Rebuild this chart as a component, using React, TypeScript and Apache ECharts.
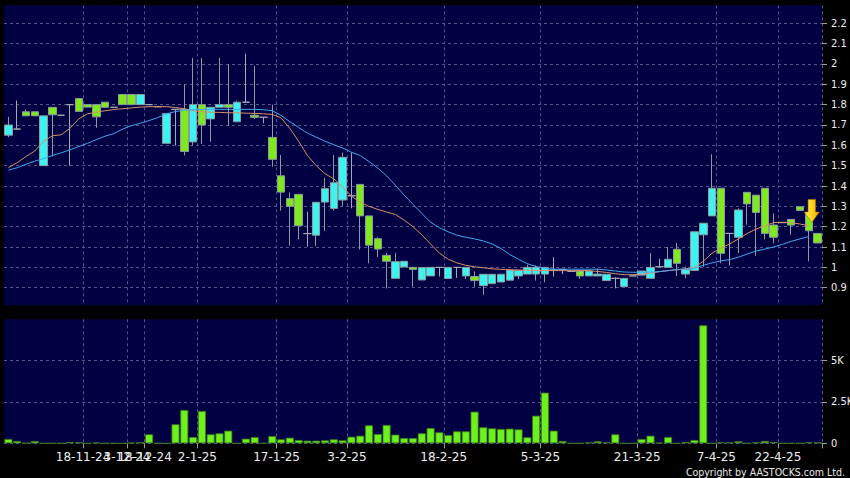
import React, { useEffect, useRef } from "react";
import * as echarts from "echarts";

const dates = [
  "5-11-24","6-11-24","7-11-24","8-11-24","11-11-24","12-11-24","13-11-24","14-11-24","15-11-24",
  "18-11-24","20-11-24","22-11-24","27-11-24","29-11-24",
  "3-12-24","10-12-24",
  "18-12-24","19-12-24","20-12-24","23-12-24","24-12-24","27-12-24",
  "2-1-25","3-1-25","6-1-25","7-1-25","8-1-25","9-1-25","10-1-25","13-1-25","14-1-25",
  "17-1-25","20-1-25","21-1-25","22-1-25","23-1-25","24-1-25","27-1-25","28-1-25",
  "3-2-25","4-2-25","5-2-25","6-2-25","7-2-25","10-2-25","11-2-25","12-2-25","13-2-25","14-2-25","17-2-25",
  "18-2-25","19-2-25","20-2-25","21-2-25","24-2-25","25-2-25","26-2-25","27-2-25","28-2-25","3-3-25","4-3-25",
  "5-3-25","6-3-25","7-3-25","10-3-25","11-3-25","12-3-25","13-3-25","14-3-25","17-3-25","18-3-25","19-3-25",
  "21-3-25","24-3-25","25-3-25","26-3-25","27-3-25","28-3-25","31-3-25","1-4-25","2-4-25",
  "7-4-25","8-4-25","9-4-25","10-4-25","11-4-25","14-4-25","15-4-25",
  "22-4-25","23-4-25","24-4-25","25-4-25","28-4-25",
];

const labelDates = ["18-11-24","3-12-24","18-12-24","2-1-25","17-1-25","3-2-25","18-2-25","5-3-25","21-3-25","7-4-25","22-4-25"];

const opens = [
  1.65,1.68,1.765,1.765,1.5,1.787,1.748,1.8,1.83,1.8,
  1.8,1.812,1.787,1.85,1.85,1.8,1.8,1.79,1.61,1.777,
  1.777,1.617,1.8,1.73,1.787,1.8,1.716,1.812,1.748,1.738,
  1.639,1.45,1.338,1.359,1.166,1.158,1.321,1.29,1.331,1.352,
  1.408,1.253,1.141,1.059,0.946,1.002,1.0,0.938,0.958,1.0,
  0.945,1.0,0.958,0.955,0.91,0.92,0.928,0.937,0.958,0.967,
  0.967,0.967,0.987,0.99,0.98,0.982,0.958,0.958,0.935,0.946,
  0.905,0.958,0.962,0.946,1.003,1.0,1.089,0.967,0.985,1.16,
  1.253,1.389,1.167,1.148,1.369,1.355,1.389,1.208,1.22,1.236,
  1.298,1.27,1.167,
];
const closes = [
  1.7,1.68,1.745,1.745,1.745,1.75,1.748,1.8,1.767,1.788,
  1.74,1.787,1.787,1.8,1.8,1.85,1.8,1.79,1.757,1.777,
  1.57,1.8,1.7,1.787,1.8,1.787,1.812,1.812,1.738,1.738,
  1.531,1.37,1.3,1.205,1.166,1.32,1.387,1.416,1.541,1.352,
  1.253,1.109,1.09,1.03,1.028,1.03,0.99,0.999,1.0,1.0,
  1.0,1.0,1.0,0.935,0.966,0.966,0.966,0.987,0.985,1.0,
  1.0,1.0,0.987,0.99,0.98,0.958,0.982,0.967,0.966,0.946,
  0.946,0.958,0.982,1.0,1.003,1.04,1.02,0.99,1.175,1.217,
  1.389,1.069,1.167,1.282,1.312,1.27,1.167,1.148,1.22,1.208,
  1.28,1.18,1.12,
];
const lows = [
  1.64,1.68,1.745,1.745,1.5,1.545,1.748,1.5,1.767,1.788,
  1.687,1.787,1.787,1.8,1.8,1.8,1.8,1.79,1.61,1.6,
  1.55,1.6,1.607,1.618,1.787,1.695,1.716,1.812,1.73,1.708,
  1.495,1.279,1.107,1.138,1.102,1.104,1.18,1.279,1.302,1.29,
  1.088,1.02,1.05,0.897,0.946,1.002,0.905,0.938,0.958,0.955,
  0.945,0.948,0.942,0.905,0.865,0.92,0.928,0.937,0.942,0.967,
  0.935,0.927,0.955,0.967,0.98,0.943,0.958,0.958,0.935,0.897,
  0.905,0.958,0.962,0.946,1.003,1.0,0.958,0.946,0.985,1.003,
  1.253,1.02,1.01,1.07,1.21,1.057,1.138,1.118,1.22,1.16,
  1.28,1.03,1.12,
];
const highs = [
  1.74,1.82,1.775,1.765,1.745,1.787,1.748,1.8,1.83,1.8,
  1.8,1.812,1.787,1.85,1.85,1.85,1.8,1.79,1.757,1.777,
  1.9,2.03,2.03,1.787,2.03,2.0,1.82,2.05,1.99,1.738,
  1.8,1.552,1.369,1.359,1.274,1.32,1.44,1.553,1.564,1.564,
  1.408,1.253,1.148,1.072,1.07,1.03,1.0,0.999,1.0,1.0,
  1.0,1.0,1.0,0.98,0.966,0.966,0.966,0.99,0.985,1.012,
  1.01,1.0,1.05,0.99,0.98,0.982,0.982,0.994,0.966,0.951,
  0.946,0.958,0.982,1.07,1.043,1.1,1.12,1.003,1.175,1.217,
  1.556,1.389,1.167,1.29,1.369,1.355,1.389,1.265,1.22,1.236,
  1.298,1.27,1.167,
];
const volumes = [
  260,140,20,140,0,0,0,80,60,0,
  40,0,0,0,40,60,545,0,0,1150,
  2015,380,1955,545,605,765,0,280,380,0,
  440,240,340,200,160,160,180,240,180,400,
  460,1090,565,1110,525,320,320,605,925,665,
  500,725,725,1915,970,905,865,885,845,365,
  1670,3065,765,140,0,0,60,120,60,545,
  0,0,260,460,40,380,0,80,200,7140,
  0,60,60,120,0,60,140,80,0,0,
  0,60,60,
];
const ma10 = [
  1.49,1.515,1.545,1.572,1.62,1.647,1.652,1.684,1.73,1.755,
  1.763,1.77,1.776,1.78,1.784,1.788,1.79,1.79,1.79,1.786,
  1.78,1.77,1.765,1.763,1.762,1.76,1.76,1.758,1.757,1.755,
  1.752,1.735,1.683,1.62,1.55,1.5,1.46,1.435,1.395,1.35,
  1.32,1.3,1.285,1.272,1.26,1.232,1.2,1.16,1.115,1.07,
  1.04,1.022,1.01,1.003,0.998,0.993,0.99,0.988,0.987,0.986,
  0.985,0.984,0.984,0.984,0.984,0.984,0.984,0.98,0.975,0.969,
  0.964,0.964,0.967,0.972,0.979,0.984,0.988,0.993,1.0,1.03,
  1.07,1.095,1.115,1.14,1.167,1.188,1.205,1.22,1.222,1.22,
  1.213,1.205,null,
];
const ma20 = [
  1.478,1.49,1.507,1.522,1.535,1.55,1.563,1.578,1.594,1.61,
  1.628,1.645,1.658,1.68,1.697,1.708,1.722,1.737,1.755,1.766,
  1.773,1.775,1.776,1.777,1.777,1.777,1.777,1.777,1.777,1.775,
  1.77,1.747,1.716,1.688,1.66,1.64,1.62,1.603,1.587,1.566,
  1.55,1.52,1.488,1.45,1.404,1.355,1.31,1.265,1.222,1.195,
  1.175,1.158,1.148,1.14,1.13,1.115,1.093,1.063,1.04,1.018,
  1.004,0.996,0.991,0.991,0.991,0.991,0.991,0.991,0.987,0.982,
  0.977,0.976,0.976,0.977,0.979,0.984,0.989,0.992,0.996,1.01,
  1.022,1.032,1.038,1.05,1.066,1.08,1.09,1.1,1.113,1.128,
  1.14,1.152,null,
];
const priceTicks = [0.9,1.0,1.1,1.2,1.3,1.4,1.5,1.6,1.7,1.8,1.9,2.0,2.1,2.2];
const volumeTicks = [0, 2500, 5000];
const signalDate = "25-4-25";
const signalPrice = 1.277;

const FONT = "'DejaVu Sans', sans-serif";
const FONT_C = "'DejaVu Sans Condensed', 'DejaVu Sans', sans-serif";
const CYAN = "#3ef2f2";
const LIME = "#7fe81e";
const GRID_LINE = { show: true, lineStyle: { color: "#55558a", type: [3, 3] as any, width: 1 } };

export default function App() {
  const ref = useRef<HTMLDivElement>(null);
  useEffect(() => {
    const chart = echarts.init(ref.current!, null, { renderer: "svg" });
    const isLabel = (_i: number, v: string) => labelDates.includes(v);
    const candles = dates.map((_, i) => [opens[i], closes[i], lows[i], highs[i]]);
    const option: any = {
      animation: false,
      backgroundColor: "#000000",
      grid: [
        { left: 4, right: 28, top: 5.3, height: 300, show: true, backgroundColor: "#000042", borderWidth: 0, outerBoundsMode: "none" },
        { left: 4, right: 28, top: 319.3, height: 124, show: true, backgroundColor: "#000042", borderWidth: 0, outerBoundsMode: "none" },
      ],
      xAxis: [
        {
          type: "category", gridIndex: 0, data: dates, boundaryGap: true,
          axisLine: { show: false }, axisTick: { show: false }, axisLabel: { show: false },
          splitLine: { ...GRID_LINE, interval: isLabel },
        },
        {
          type: "category", gridIndex: 1, data: dates, boundaryGap: true,
          axisLine: { show: false },
          axisTick: { show: true, interval: isLabel, length: 5, lineStyle: { color: "#9a9a9a" } },
          axisLabel: {
            show: true, interval: 0, hideOverlap: false,
            formatter: (v: string) => (labelDates.includes(v) ? v : ""),
            color: "#eeeeee", fontFamily: FONT, fontSize: 12, margin: 8, padding: [0, 9, 0, 0],
          },
          splitLine: { ...GRID_LINE, interval: isLabel },
        },
      ],
      yAxis: [
        {
          type: "value", gridIndex: 0, position: "right", min: 0.8135, max: 2.2885,
          axisLine: { show: false },
          axisTick: { show: true, customValues: priceTicks, length: 5, lineStyle: { color: "#9a9a9a" } },
          axisLabel: {
            customValues: priceTicks, color: "#eeeeee", fontFamily: FONT_C, fontSize: 11, margin: 9,
            formatter: (v: number) => String(Number(v.toFixed(1))),
          },
          splitLine: GRID_LINE,
        },
        {
          type: "value", gridIndex: 1, position: "right", min: 0, max: 7500,
          axisLine: { show: false },
          axisTick: { show: true, customValues: volumeTicks, length: 5, lineStyle: { color: "#9a9a9a" } },
          axisLabel: {
            customValues: volumeTicks, color: "#eeeeee", fontFamily: FONT_C, fontSize: 11, margin: 9,
            formatter: (v: number) => (v === 0 ? "0" : String(v / 1000) + "K"),
          },
          splitLine: GRID_LINE,
        },
      ],
      series: [
        {
          type: "candlestick", xAxisIndex: 0, yAxisIndex: 0, data: candles, barWidth: 8,
          itemStyle: {
            color: CYAN, color0: LIME, borderColor: "#8a9c9c", borderColor0: "#8a9c9c",
            borderColorDoji: "#a8a8b4", borderWidth: 1,
          },
          markPoint: {
            silent: true,
            label: { show: false },
            data: [
              {
                coord: [signalDate, signalPrice],
                symbol: "path://M3.5,0 L10.5,0 L10.5,12 L14,12 L7,22 L0,12 L3.5,12 Z",
                symbolSize: [15, 23],
                symbolOffset: [3, 0],
                itemStyle: {
                  color: new echarts.graphic.LinearGradient(0, 0, 1, 0, [
                    { offset: 0, color: "#fff04a" },
                    { offset: 0.55, color: "#ffd21a" },
                    { offset: 1, color: "#e89a00" },
                  ]),
                  borderColor: "#b07000", borderWidth: 0.6,
                },
              },
            ],
          },
        },
        {
          type: "line", xAxisIndex: 0, yAxisIndex: 0, data: ma10, showSymbol: false, silent: true,
          lineStyle: { color: "#d99068", width: 1 },
        },
        {
          type: "line", xAxisIndex: 0, yAxisIndex: 0, data: ma20, showSymbol: false, silent: true,
          lineStyle: { color: "#45a6ee", width: 1 },
        },
        {
          type: "bar", xAxisIndex: 1, yAxisIndex: 1, data: volumes, barWidth: 8,
          itemStyle: { color: "#6ef01c", borderColor: "#3c7a1c", borderWidth: 0.8 },
        },
      ],
      graphic: [
        {
          type: "text", x: 845, y: 472,
          style: {
            text: "Copyright by AASTOCKS.com Ltd.", fill: "#e8e8e8", font: `10.5px ${FONT_C}`,
            textAlign: "right", textVerticalAlign: "middle",
          },
        },
      ],
    };
    chart.setOption(option);
    return () => chart.dispose();
  }, []);
  return (
    <div
      ref={ref}
      style={{ position: "fixed", left: 0, top: 0, width: 850, height: 478, background: "#000" }}
    />
  );
}
